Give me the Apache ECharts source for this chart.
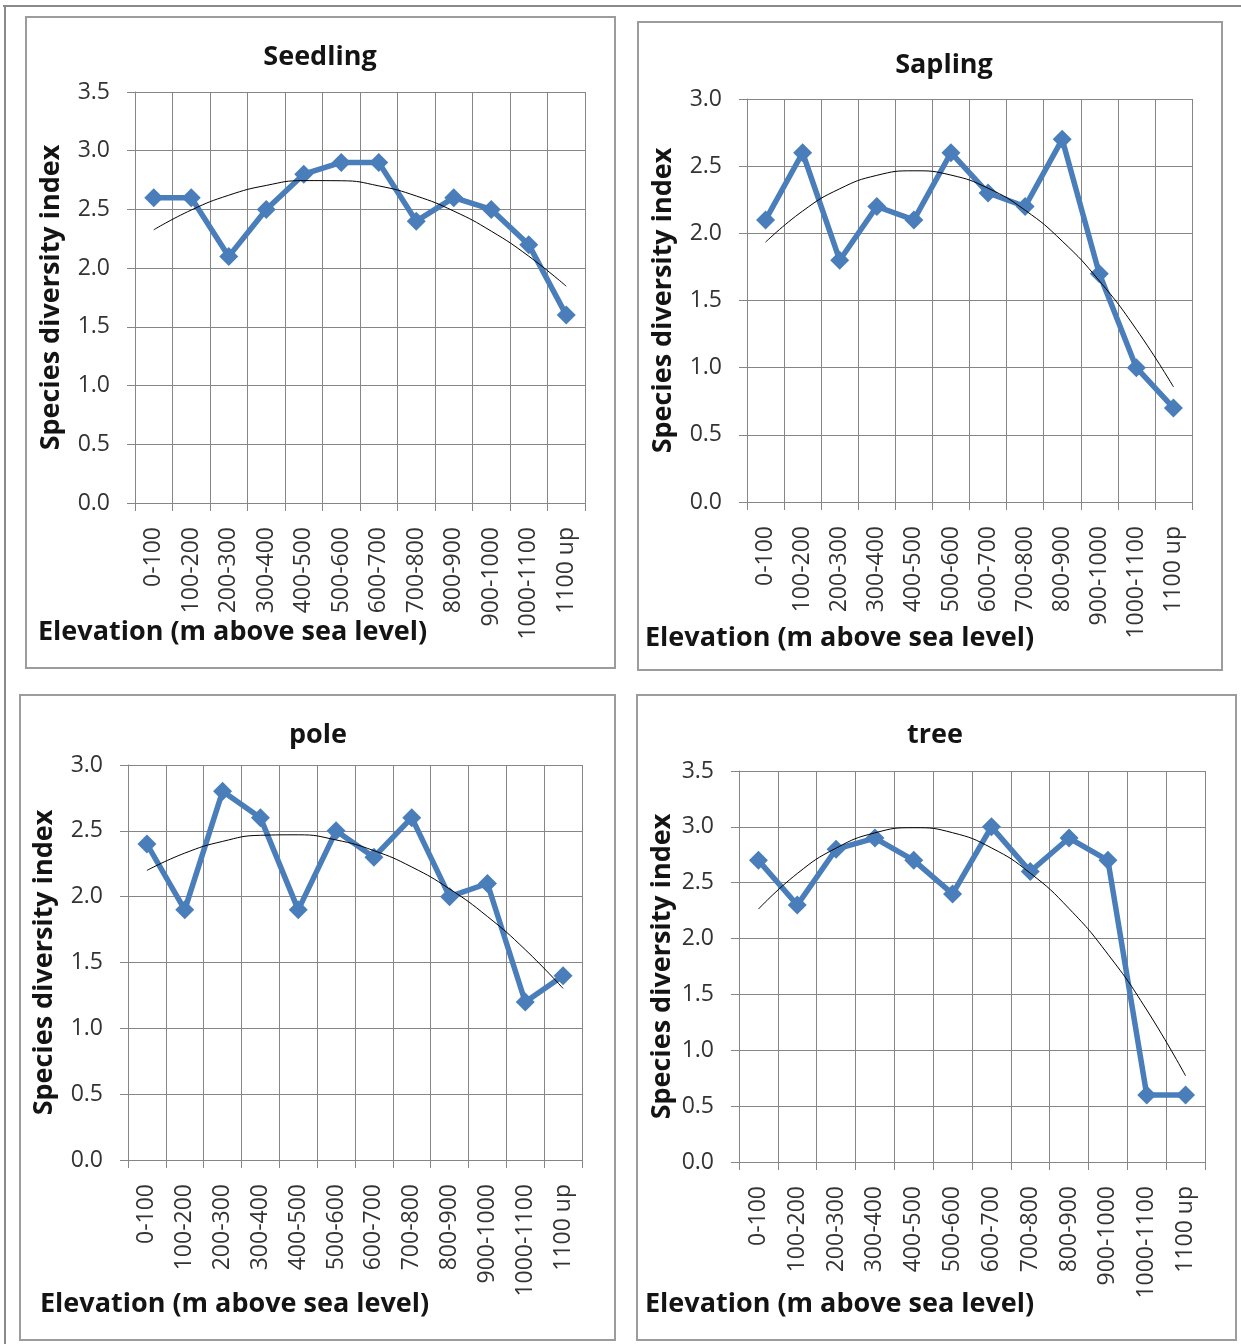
<!DOCTYPE html>
<html>
<head>
<meta charset="utf-8">
<script src="https://cdn.jsdelivr.net/npm/echarts@6/dist/echarts.min.js"></script>
<style>
  html, body { margin: 0; padding: 0; background: #ffffff; }
  #chart { width: 1241px; height: 1344px; }
</style>
</head>
<body>
<div id="chart"></div>
<script>
// Elevation bands (category axis) shared by all four panels
const elevationBands = ['0-100', '100-200', '200-300', '300-400', '400-500', '500-600',
  '600-700', '700-800', '800-900', '900-1000', '1000-1100', '1100 up'];

// Species diversity index per elevation band, by growth stage
const seedling = [2.6, 2.6, 2.1, 2.5, 2.8, 2.9, 2.9, 2.4, 2.6, 2.5, 2.2, 1.6];
const sapling  = [2.1, 2.6, 1.8, 2.2, 2.1, 2.6, 2.3, 2.2, 2.7, 1.7, 1.0, 0.7];
const pole     = [2.4, 1.9, 2.8, 2.6, 1.9, 2.5, 2.3, 2.6, 2.0, 2.1, 1.2, 1.4];
const tree     = [2.7, 2.3, 2.8, 2.9, 2.7, 2.4, 3.0, 2.6, 2.9, 2.7, 0.6, 0.6];

const panelTitles = ['Seedling', 'Sapling', 'pole', 'tree'];
const yAxisMax = [3.5, 3.0, 3.0, 3.5];
const yTickStep = 0.5;
const xAxisTitle = 'Elevation (m above sea level)';
const yAxisTitle = 'Species diversity index';

const seriesByPanel = [seedling, sapling, pole, tree];

// Second-order polynomial least-squares trend, evaluated at each band (x = 1..n)
function quadraticTrend(values) {
  const s = [0, 0, 0, 0, 0], t = [0, 0, 0];
  values.forEach((y, i) => {
    const x = i + 1;
    for (let k = 0; k <= 4; k++) s[k] += Math.pow(x, k);
    for (let k = 0; k <= 2; k++) t[k] += y * Math.pow(x, k);
  });
  // normal equations: [s0 s1 s2; s1 s2 s3; s2 s3 s4] * [a b c] = [t0 t1 t2]
  const m = [[s[0], s[1], s[2], t[0]], [s[1], s[2], s[3], t[1]], [s[2], s[3], s[4], t[2]]];
  for (let c = 0; c < 3; c++) {
    for (let r = c + 1; r < 3; r++) {
      const f = m[r][c] / m[c][c];
      for (let k = c; k < 4; k++) m[r][k] -= f * m[c][k];
    }
  }
  const coef = [0, 0, 0];
  for (let r = 2; r >= 0; r--) {
    let v = m[r][3];
    for (let k = r + 1; k < 3; k++) v -= m[r][k] * coef[k];
    coef[r] = v / m[r][r];
  }
  return values.map((_, i) => {
    const x = i + 1;
    return +(coef[0] + coef[1] * x + coef[2] * x * x).toFixed(4);
  });
}

// Panel frames, plot areas and text anchors (pixels)
const layout = [
  { box: [26, 17, 589, 651], grid: [135, 92, 450, 411], title: [320, 57], xName: [38, 632], yGap: 70 },
  { box: [638, 22, 584, 648], grid: [747, 99, 445, 403], title: [944, 65], xName: [645, 638], yGap: 70 },
  { box: [20, 695, 595, 645], grid: [128, 765, 454, 395], title: [318, 735], xName: [40, 1304], yGap: 70 },
  { box: [637, 695, 599, 645], grid: [739, 771, 466, 391], title: [935, 735], xName: [645, 1304], yGap: 63 }
];

const boldFont = '"Open Sans", "Liberation Sans", sans-serif';
const labelFont = '"Open Sans", "Liberation Sans", sans-serif';
const gridColor = '#868686';
const lineBlue = '#4a7ebb';

const grids = [], xAxes = [], yAxes = [], series = [], titles = [], graphics = [];

// outer frame
graphics.push({ type: 'line', shape: { x1: 3, y1: 6, x2: 1241, y2: 6 }, style: { stroke: '#8a8a8a', lineWidth: 2 } });
graphics.push({ type: 'line', shape: { x1: 5, y1: 6, x2: 5, y2: 1344 }, style: { stroke: '#8a8a8a', lineWidth: 2 } });

layout.forEach((p, i) => {
  graphics.push({
    type: 'rect',
    shape: { x: p.box[0], y: p.box[1], width: p.box[2], height: p.box[3] },
    style: { fill: 'none', stroke: '#9c9c9c', lineWidth: 2 },
    z: 0
  });

  grids.push({ left: p.grid[0], top: p.grid[1], width: p.grid[2], height: p.grid[3], containLabel: false });

  titles.push({
    text: panelTitles[i], left: p.title[0], top: p.title[1], textAlign: 'center', textVerticalAlign: 'middle',
    padding: 0,
    textStyle: { fontFamily: boldFont, fontWeight: 'bold', fontSize: 27, color: '#141414' }
  });
  titles.push({
    text: xAxisTitle, left: p.xName[0], top: p.xName[1], textVerticalAlign: 'middle',
    padding: 0,
    textStyle: { fontFamily: boldFont, fontWeight: 'bold', fontSize: 27, color: '#141414' }
  });

  xAxes.push({
    type: 'category', gridIndex: i, data: elevationBands, boundaryGap: true,
    axisLine: { show: true, lineStyle: { color: gridColor, width: 1 } },
    axisTick: { show: true, length: 8, inside: false, lineStyle: { color: gridColor } },
    splitLine: { show: true, lineStyle: { color: gridColor, width: 1 } },
    axisLabel: { rotate: 90, margin: 24, interval: 0, fontFamily: labelFont, fontSize: 23, color: '#333333' }
  });

  yAxes.push({
    type: 'value', gridIndex: i, min: 0, max: yAxisMax[i], interval: yTickStep,
    name: yAxisTitle, nameLocation: 'middle', nameRotate: 90, nameGap: p.yGap,
    nameTextStyle: { fontFamily: boldFont, fontWeight: 'bold', fontSize: 27, color: '#141414' },
    axisLine: { show: true, lineStyle: { color: gridColor, width: 1 } },
    axisTick: { show: true, length: 8, lineStyle: { color: gridColor } },
    splitLine: { show: true, lineStyle: { color: gridColor, width: 1 } },
    axisLabel: { margin: 25, fontFamily: labelFont, fontSize: 23, color: '#333333',
      formatter: v => v.toFixed(1) }
  });

  series.push({
    type: 'line', xAxisIndex: i, yAxisIndex: i, data: seriesByPanel[i],
    symbol: 'diamond', symbolSize: 19, showSymbol: true,
    lineStyle: { color: lineBlue, width: 5.5 },
    itemStyle: { color: lineBlue, borderWidth: 0 },
    z: 3, animation: false
  });
  series.push({
    type: 'line', xAxisIndex: i, yAxisIndex: i, data: quadraticTrend(seriesByPanel[i]),
    smooth: true, showSymbol: false, symbol: 'none',
    lineStyle: { color: '#000000', width: 1 },
    z: 4, animation: false
  });
});

const chart = echarts.init(document.getElementById('chart'), null, { renderer: 'canvas' });
chart.setOption({
  backgroundColor: '#ffffff',
  animation: false,
  title: titles,
  grid: grids,
  xAxis: xAxes,
  yAxis: yAxes,
  series: series,
  graphic: graphics
});
</script>
</body>
</html>
